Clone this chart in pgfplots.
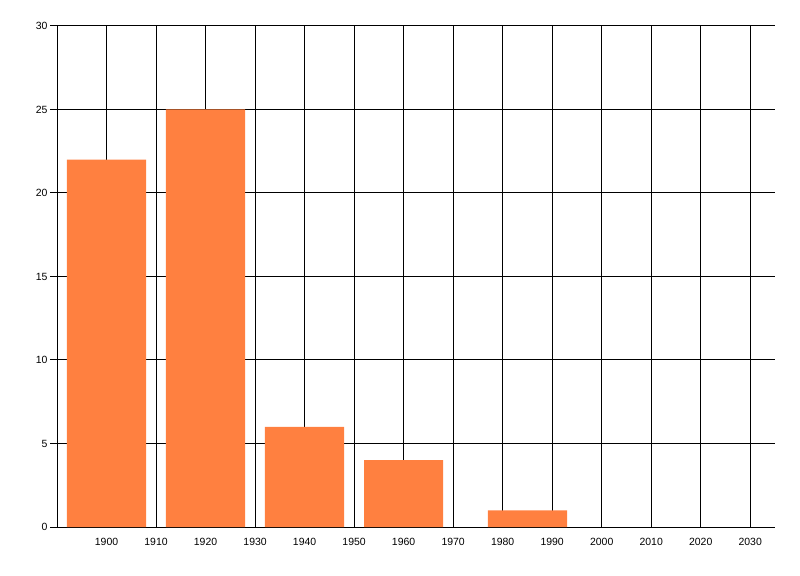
\documentclass[border=0pt]{standalone}
\usepackage{pgfplots}
\pgfplotsset{compat=1.18}
\usepackage{fontspec}
\setmainfont{Liberation Sans}
\definecolor{barc}{RGB}{255,128,64}
\begin{document}
\begin{tikzpicture}
\begin{axis}[
  scale only axis,
  width=718bp, height=501bp,
  xmin=1890, xmax=2035,
  ymin=0, ymax=30,
  axis lines*=left,
  axis line style={black, line width=1bp},
  xtick={1900,1910,...,2030},
  ytick={0,5,...,30},
  grid=major,
  major grid style={black, line width=1bp},
  xtick style={draw=none},
  ytick style={black, line width=1bp},
  tick align=outside,
  major tick length=7bp,
  /pgf/number format/assume math mode=true,
  /pgf/number format/1000 sep={},
  tick label style={font=\fontsize{10.5}{12}\selectfont, black},
  xticklabel style={yshift=-1bp},
  yticklabel style={xshift=1bp},
  ybar, bar width=16, bar shift=0pt,
  clip=false,
]
\addplot[fill=barc, draw=none] coordinates {
  (1900,22) (1920,25) (1940,6) (1960,4) (1985,1)
};
\coordinate (bl) at (rel axis cs:0,0);
\end{axis}
\pgfresetboundingbox
\path ([shift={(-57bp,-49bp)}]bl) rectangle ([shift={(743bp,527bp)}]bl);
\end{tikzpicture}
\end{document}
